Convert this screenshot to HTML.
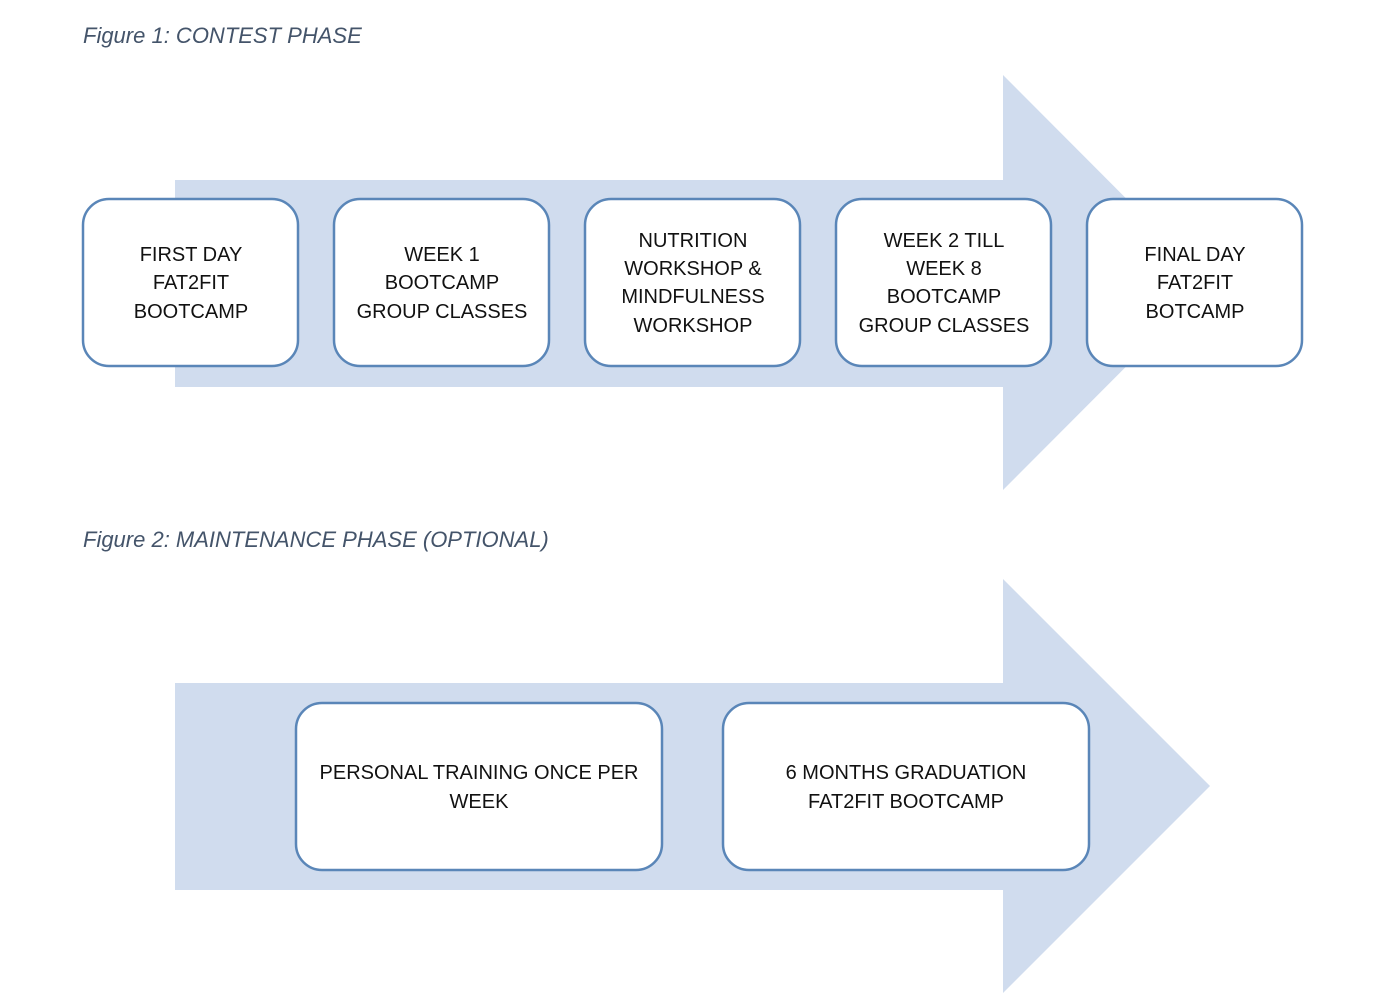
<!DOCTYPE html>
<html><head><meta charset="utf-8"><style>
body{margin:0;background:#fff;width:1400px;height:993px;overflow:hidden}
svg{display:block}
text{font-family:"Liberation Sans",sans-serif;font-size:20px;fill:#111;text-anchor:middle}
.cap{font-style:italic;fill:#44546a;font-size:22px;text-anchor:start}
rect.b{fill:#fff;stroke:#5a86b8;stroke-width:2.5}
</style></head><body>
<svg width="1400" height="993" viewBox="0 0 1400 993">
<text class="cap" x="83" y="43">Figure 1: CONTEST PHASE</text>
<polygon points="175,180 1003,180 1003,75 1210,282.5 1003,490 1003,387 175,387" fill="#d0dcee"/>
<rect class="b" x="83" y="199" width="215" height="167" rx="26"/>
<rect class="b" x="334" y="199" width="215" height="167" rx="26"/>
<rect class="b" x="585" y="199" width="215" height="167" rx="26"/>
<rect class="b" x="836" y="199" width="215" height="167" rx="26"/>
<rect class="b" x="1087" y="199" width="215" height="167" rx="26"/>
<text x="191" y="261">FIRST DAY</text><text x="191" y="289">FAT2FIT</text><text x="191" y="318">BOOTCAMP</text>
<text x="442" y="261">WEEK 1</text><text x="442" y="289">BOOTCAMP</text><text x="442" y="318">GROUP CLASSES</text>
<text x="693" y="247">NUTRITION</text><text x="693" y="275">WORKSHOP &amp;</text><text x="693" y="303">MINDFULNESS</text><text x="693" y="332">WORKSHOP</text>
<text x="944" y="247">WEEK 2 TILL</text><text x="944" y="275">WEEK 8</text><text x="944" y="303">BOOTCAMP</text><text x="944" y="332">GROUP CLASSES</text>
<text x="1195" y="261">FINAL DAY</text><text x="1195" y="289">FAT2FIT</text><text x="1195" y="318">BOTCAMP</text>
<text class="cap" x="83" y="547">Figure 2: MAINTENANCE PHASE (OPTIONAL)</text>
<polygon points="175,683 1003,683 1003,579 1210,786 1003,993 1003,890 175,890" fill="#d0dcee"/>
<rect class="b" x="296" y="703" width="366" height="167" rx="26"/>
<rect class="b" x="723" y="703" width="366" height="167" rx="26"/>
<text x="479" y="779">PERSONAL TRAINING ONCE PER</text><text x="479" y="808">WEEK</text>
<text x="906" y="779">6 MONTHS GRADUATION</text><text x="906" y="808">FAT2FIT BOOTCAMP</text>
</svg>
</body></html>
